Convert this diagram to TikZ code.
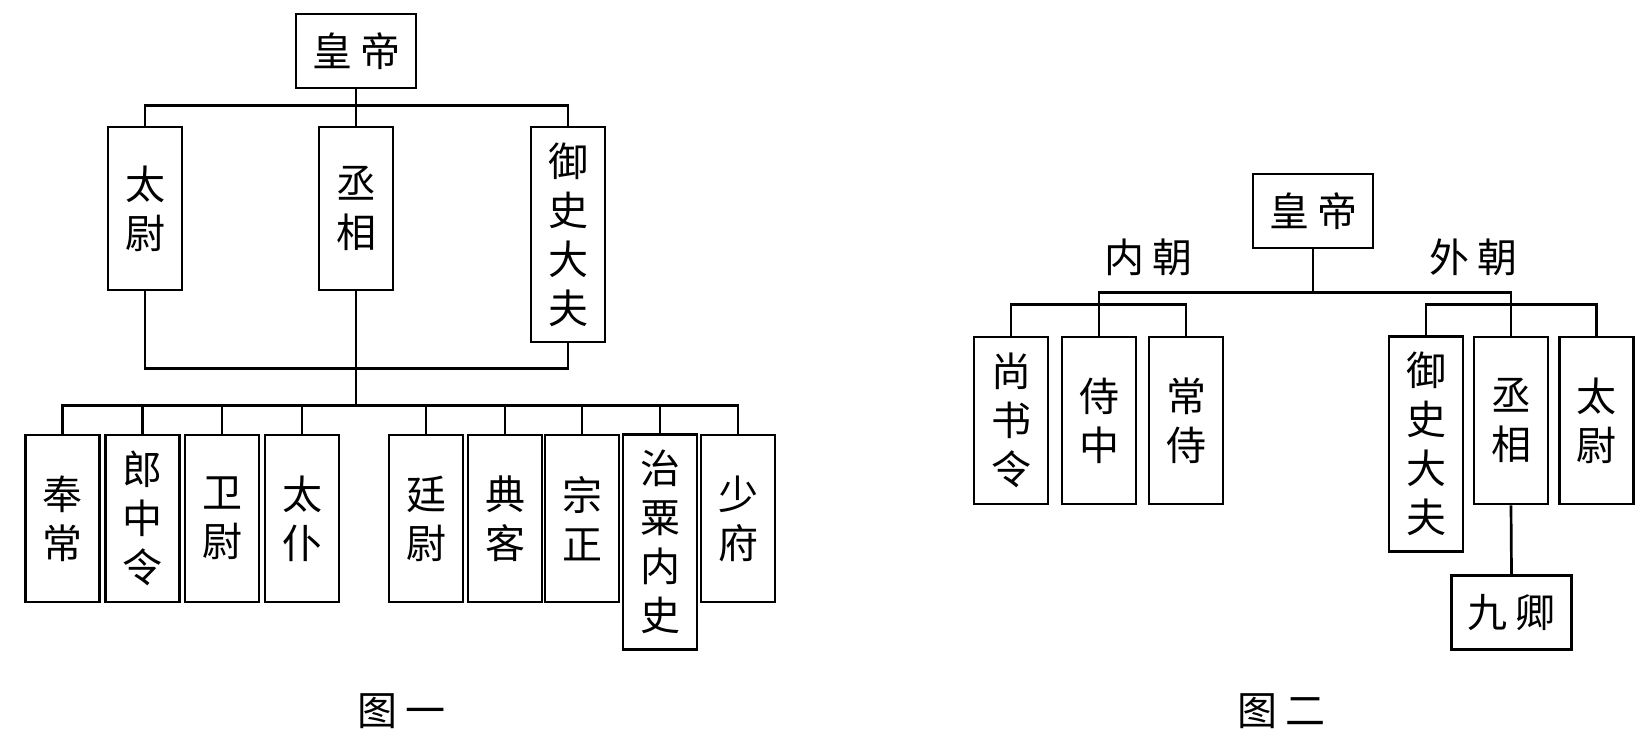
\documentclass[tikz,border=0pt]{standalone}
\usepackage{fontspec}
\newfontfamily\cjk{Noto Sans CJK SC}
\begin{document}
\begin{tikzpicture}[
			x=0.5bp, y=-0.5bp,
			line width=1.35bp,
			box/.style={draw, inner sep=0pt, align=center, font=\cjk\fontsize{20bp}{24.5bp}\selectfont},
			hbox/.style={box, minimum width=60bp, minimum height=37bp},
			vbox/.style={box, minimum width=37bp, minimum height=83.5bp},
			vlong/.style={vbox, minimum height=107.5bp},
			label/.style={font=\cjk\fontsize{20bp}{24.5bp}\selectfont}
		]
		\useasboundingbox (0,0) rectangle (1649,746);
		\node[hbox] (huangdi1) at (356,51) {皇\kern4bp帝};
		\node[vbox, minimum height=81.5bp] (taiwei1) at (145,208.5) {太\\尉};
		\node[vbox, minimum height=81.5bp] (chengxiang1) at (356,208.5) {丞\\相};
		\node[vlong] (yushi1) at (568,234.5) {御\\史\\大\\夫};
		\node[vbox] (fengchang) at (62.5,518.5) {奉\\常};
		\node[vbox] (langzhong) at (142.5,518.5) {郎\\中\\令};
		\node[vbox] (weiwei) at (222,518.5) {卫\\尉};
		\node[vbox] (taipu) at (302,518.5) {太\\仆};
		\node[vbox] (tingwei) at (426,518.5) {廷\\尉};
		\node[vbox] (dianke) at (505,518.5) {典\\客};
		\node[vbox] (zongzheng) at (582,518.5) {宗\\正};
		\node[vlong] (zhisu) at (660,542) {治\\粟\\内\\史};
		\node[vbox] (shaofu) at (738,518.5) {少\\府};
		\node[label] (fig1) at (401,711) {图\kern4bp一};

		\draw (huangdi1.south) -- (chengxiang1.north);
		\draw (taiwei1.north) -- ++(0,-20) -| (yushi1.north);
		\draw (taiwei1.south) -- ++(0,77) -| (yushi1.south);
		\draw (chengxiang1.south) -- ++(0,114) coordinate (hub1);
		\draw (hub1) -| (fengchang.north) (hub1) -| (langzhong.north)
			(hub1) -| (weiwei.north) (hub1) -| (taipu.north)
			(hub1) -| (tingwei.north) (hub1) -| (dianke.north)
			(hub1) -| (zongzheng.north) (hub1) -| (zhisu.north)
			(hub1) -| (shaofu.north);

		\node[hbox] (huangdi2) at (1313,211) {皇\kern4bp帝};
		\node[label] (neichao) at (1148,257) {内\kern4bp朝};
		\node[label] (waichao) at (1473,257) {外\kern4bp朝};
		\node[vbox] (shangshu) at (1011,420.5) {尚\\书\\令};
		\node[vbox] (shizhong) at (1099,420.5) {侍\\中};
		\node[vbox] (changshi) at (1186,420.5) {常\\侍};
		\node[vlong] (yushi2) at (1426,444) {御\\史\\大\\夫};
		\node[vbox] (chengxiang2) at (1511,420.5) {丞\\相};
		\node[vbox] (taiwei2) at (1596.5,420.5) {太\\尉};
		\node[hbox] (jiuqing) at (1511.5,612.5) {九\kern4bp卿};
		\node[label] (fig2) at (1281,711) {图\kern4bp二};

		\draw (huangdi2.south) -- ++(0,43) coordinate (hub2);
		\draw (hub2) -| (shizhong.north) (hub2) -| (chengxiang2.north);
		\draw (shangshu.north) -- ++(0,-31) -| (changshi.north);
		\draw (yushi2.north) -- ++(0,-31) -| (taiwei2.north);
		\draw (chengxiang2.south) -- (jiuqing.north);
	\end{tikzpicture}
\end{document}
